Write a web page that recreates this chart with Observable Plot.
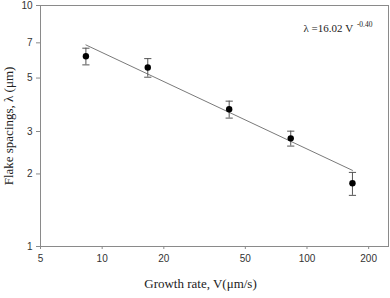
<!DOCTYPE html>
<html>
<head>
<meta charset="utf-8">
<script src="https://cdn.jsdelivr.net/npm/d3@7"></script>
<script src="https://cdn.jsdelivr.net/npm/@observablehq/plot@0.6"></script>
<style>
  html, body { margin: 0; padding: 0; background: #fff; }
</style>
</head>
<body>
<div id="chart"></div>
<script>
// Measured flake spacing versus growth rate (log-log), with error bars
const velocity = [8.33, 16.7, 41.7, 83.3, 166.7];
const spacing = [6.16, 5.53, 3.71, 2.81, 1.83];
const spacingErr = [0.49, 0.49, 0.30, 0.20, 0.20];

// Power-law fit: lambda = fitCoef * V^fitExp over the measured range
const fitCoef = 16.02;
const fitExp = -0.40;
const fitSpan = [8.33, 166.7];

const xTicks = [5, 10, 20, 50, 100, 200];
const yTicks = [1, 2, 3, 5, 7, 10];

const points = velocity.map((v, i) => ({
  v,
  s: spacing[i],
  lo: spacing[i] - spacingErr[i],
  hi: spacing[i] + spacingErr[i]
}));
const fit = fitSpan.map(v => ({v, s: fitCoef * Math.pow(v, fitExp)}));

// horizontal bar symbol used for error-bar caps
const capSymbol = {
  draw(context, size) {
    const w = Math.sqrt(size / Math.PI);
    context.moveTo(-w, 0);
    context.lineTo(w, 0);
  }
};

const serif = "'Liberation Serif', 'Times New Roman', serif";

const chart = Plot.plot({
  width: 390,
  height: 298,
  marginLeft: 40,
  marginRight: 2,
  marginTop: 5,
  marginBottom: 52,
  style: {
    fontFamily: "'Liberation Sans', Arial, sans-serif",
    fontSize: "10px",
    background: "#fff",
    overflow: "visible"
  },
  x: {type: "log", domain: [5, 250]},
  y: {type: "log", domain: [1, 10]},
  marks: [
    Plot.frame({stroke: "#8a8a8a"}),
    Plot.axisX({
      ticks: xTicks, tickFormat: d => String(d), tickSize: 3, tickPadding: 5,
      stroke: "#8a8a8a", fill: "#333", label: null
    }),
    Plot.axisY({
      ticks: yTicks, tickFormat: d => String(d), tickSize: 4, tickPadding: 4,
      stroke: "#8a8a8a", fill: "#333", label: null
    }),
    Plot.line(fit, {x: "v", y: "s", stroke: "#7a7a7a", strokeWidth: 1}),
    Plot.ruleX(points, {x: "v", y1: "lo", y2: "hi", stroke: "#555", strokeWidth: 1}),
    Plot.dot(points, {x: "v", y: "lo", symbol: capSymbol, r: 3.6, stroke: "#555", strokeWidth: 1}),
    Plot.dot(points, {x: "v", y: "hi", symbol: capSymbol, r: 3.6, stroke: "#555", strokeWidth: 1}),
    Plot.dot(points, {x: "v", y: "s", r: 3.2, fill: "#000", stroke: "none"}),
    // fit equation
    Plot.text(["λ =16.02 V"], {
      frameAnchor: "top-left", dx: 263, dy: 23, textAnchor: "start", lineAnchor: "middle",
      fontFamily: serif, fontSize: 11, fill: "#222"
    }),
    Plot.text(["-0.40"], {
      frameAnchor: "top-right", dx: -16, dy: 19, textAnchor: "end", lineAnchor: "middle",
      fontFamily: serif, fontSize: 7.5, fill: "#222"
    }),
    // axis titles
    Plot.text(["Growth rate, V(μm/s)"], {
      frameAnchor: "bottom", dx: -14, dy: 37, textAnchor: "middle", lineAnchor: "middle",
      fontFamily: serif, fontSize: 13, fill: "#222"
    }),
    Plot.text(["Flake spacings, λ (μm)"], {
      frameAnchor: "left", dx: -32, dy: 0, rotate: -90, textAnchor: "middle", lineAnchor: "middle",
      fontFamily: serif, fontSize: 13, fill: "#222"
    })
  ]
});

document.getElementById("chart").appendChild(chart);
</script>
</body>
</html>
